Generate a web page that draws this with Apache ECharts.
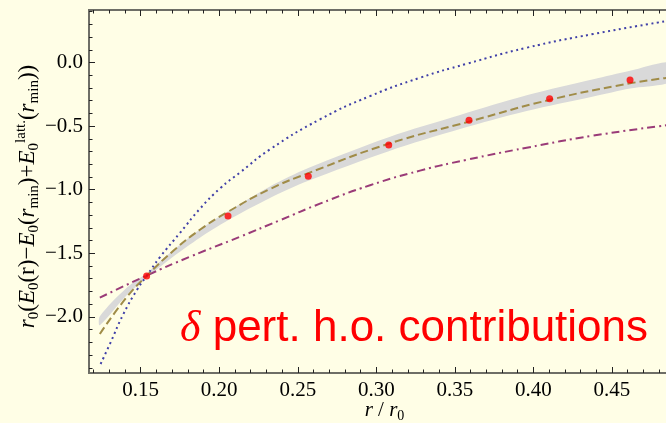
<!DOCTYPE html>
<html>
<head>
<meta charset="utf-8">
<script src="https://cdn.jsdelivr.net/npm/echarts@6/dist/echarts.min.js"></script>
<style>
  html, body { margin: 0; padding: 0; background: #fffee6; }
  #chart { width: 666px; height: 423px; }
</style>
</head>
<body>
<div id="chart"></div>
<script>
// lattice points (red dots)
var dotR = [0.1538, 0.2056, 0.2567, 0.3079, 0.3590, 0.4103, 0.4615];
var dotE = [-1.678, -1.207, -0.895, -0.649, -0.454, -0.285, -0.138];

// dotted blue curve
var blueR = [0.1245, 0.1305, 0.1389, 0.1475, 0.1538, 0.1623, 0.1750, 0.1877, 0.2005, 0.2132, 0.2323, 0.2641, 0.2960, 0.3278, 0.3575, 0.3957, 0.4381, 0.4870];
var blueE = [-2.37, -2.21, -1.98, -1.79, -1.678, -1.53, -1.34, -1.15, -0.99, -0.865, -0.683, -0.447, -0.264, -0.12, -0.01, 0.116, 0.224, 0.33];

// dashed olive curve
var oliveR = [0.1240, 0.1411, 0.1538, 0.1708, 0.1877, 0.2047, 0.2323, 0.2567, 0.3076, 0.3590, 0.4100, 0.4615, 0.4870];
var oliveE = [-2.134, -1.845, -1.678, -1.48, -1.315, -1.18, -0.995, -0.87, -0.64, -0.465, -0.295, -0.164, -0.118];

// dash-dotted purple curve
var purpleR = [0.1240, 0.1538, 0.1814, 0.2132, 0.2387, 0.2641, 0.2960, 0.3278, 0.3575, 0.3957, 0.4381, 0.4870];
var purpleE = [-1.849, -1.675, -1.527, -1.37, -1.24, -1.11, -0.965, -0.85, -0.765, -0.67, -0.575, -0.49];

// grey error band
var bandR = [0.1240, 0.1411, 0.1538, 0.1708, 0.1877, 0.2056, 0.2323, 0.2567, 0.3079, 0.3533, 0.3957, 0.4381, 0.4615, 0.4890];
var bandUpper = [-1.995, -1.77, -1.657, -1.475, -1.313, -1.17, -0.975, -0.83, -0.587, -0.413, -0.258, -0.132, -0.065, 0.0];
var bandLower = [-2.065, -1.83, -1.693, -1.525, -1.377, -1.24, -1.065, -0.93, -0.697, -0.523, -0.382, -0.268, -0.205, -0.145];

// ticks
var xMajor = [0.15, 0.20, 0.25, 0.30, 0.35, 0.40, 0.45];
var yMajor = [-2.0, -1.5, -1.0, -0.5, 0.0];
var xMinor = [];
for (var i = 12; i <= 49; i++) { if (i % 5 !== 0) xMinor.push(i / 100); }
var yMinor = [];
for (var j = -24; j <= 4; j++) { if (j % 5 !== 0) yMinor.push(j / 10); }

var X_MIN = 0.1171, X_MAX = 0.4933;
var Y_MIN = -2.441, Y_MAX = 0.4127;

function pairs(xs, ys) {
  return xs.map(function (x, k) { return [x, ys[k]]; });
}

var serif = 'Liberation Serif';
var axisCol = '#6e6e66';
var tickCol = '#222';

function xAx(grid, pos, ticks, len, labels) {
  return {
    type: 'value', gridIndex: grid, position: pos, min: X_MIN, max: X_MAX,
    axisLine: { show: true, onZero: false, lineStyle: { color: axisCol, width: 2 } },
    axisTick: { show: true, inside: true, length: len, customValues: ticks, lineStyle: { color: tickCol, width: 1 } },
    axisLabel: labels ? {
      customValues: ticks, margin: 7, color: '#000', fontFamily: serif, fontSize: 21,
      formatter: function (v) { return v.toFixed(2); }
    } : { show: false },
    splitLine: { show: false }
  };
}

function yAx(grid, ticks, len, labels) {
  return {
    type: 'value', gridIndex: grid, position: 'left', min: Y_MIN, max: Y_MAX,
    axisLine: { show: true, onZero: false, lineStyle: { color: axisCol, width: 2 } },
    axisTick: { show: true, inside: true, length: len, customValues: ticks, lineStyle: { color: tickCol, width: 1 } },
    axisLabel: labels ? {
      customValues: ticks, margin: 6, color: '#000', fontFamily: serif, fontSize: 21,
      formatter: function (v) { return v.toFixed(1).replace('-', '\u2212'); }
    } : { show: false },
    splitLine: { show: false }
  };
}

var xBottom = xAx(0, 'bottom', xMajor, 6, true);
xBottom.name = '{i|r} / {i|r}{s|0}';
xBottom.nameLocation = 'middle';
xBottom.nameGap = 24;
xBottom.nameMoveOverlap = false;
xBottom.nameTextStyle = {
  fontFamily: serif, fontSize: 21, color: '#000', lineHeight: 26,
  rich: {
    i: { fontFamily: serif, fontSize: 21, fontStyle: 'italic', lineHeight: 26 },
    s: { fontFamily: serif, fontSize: 14, lineHeight: 16, verticalAlign: 'bottom' }
  }
};

var yLeft = yAx(0, yMajor, 6, true);
yLeft.name = '{i|r}{s|0}({i|E}{s|0}(r)\u2212{i|E}{s|0}({i|r}{s|min})+{i|E}{s|0}{p|latt.}({i|r}{s|min}))';
yLeft.nameLocation = 'middle';
yLeft.nameGap = 47;
yLeft.nameMoveOverlap = false;
yLeft.nameTextStyle = {
  fontFamily: serif, fontSize: 23, color: '#000', lineHeight: 28,
  padding: [0, 10, 0, 0],
  rich: {
    i: { fontFamily: serif, fontSize: 23, fontStyle: 'italic', lineHeight: 28 },
    s: { fontFamily: serif, fontSize: 15, lineHeight: 17, verticalAlign: 'bottom' },
    p: { fontFamily: serif, fontSize: 15, lineHeight: 17, verticalAlign: 'top' }
  }
};

var gridBox = { left: 89, right: -14, top: 10, bottom: 50, outerBoundsMode: 'none' };

var chart = echarts.init(document.getElementById('chart'));
chart.setOption({
  backgroundColor: '#fffee6',
  animation: false,
  grid: [gridBox, gridBox],
  xAxis: [
    xBottom,
    xAx(0, 'top', xMajor, 6, false),
    xAx(1, 'bottom', xMinor, 3.5, false),
    xAx(1, 'top', xMinor, 3.5, false)
  ],
  yAxis: [
    yLeft,
    yAx(1, yMinor, 3.5, false)
  ],
  graphic: [{
    type: 'text',
    x: 180,
    y: 329,
    style: {
      text: '{d|\u03b4} pert. h.o. contributions',
      fill: '#ff0000',
      fontFamily: 'Liberation Sans',
      fontSize: 44,
      verticalAlign: 'middle',
      rich: {
        d: { fontFamily: serif, fontStyle: 'italic', fontSize: 44, fill: '#ff0000' }
      }
    },
    z: 100
  }],
  series: [
    {
      // grey band: upper edge left to right, lower edge back
      type: 'custom', xAxisIndex: 0, yAxisIndex: 0, z: 1,
      data: [0],
      renderItem: function (params, api) {
        var pts = [];
        for (var k = 0; k < bandR.length; k++) pts.push(api.coord([bandR[k], bandUpper[k]]));
        for (var m = bandR.length - 1; m >= 0; m--) pts.push(api.coord([bandR[m], bandLower[m]]));
        return {
          type: 'polygon',
          shape: { points: pts, smooth: 0.3 },
          style: { fill: '#d9d9d9' }
        };
      }
    },
    {
      type: 'line', xAxisIndex: 0, yAxisIndex: 0, data: pairs(purpleR, purpleE),
      smooth: true, showSymbol: false,
      lineStyle: { color: '#9a3b78', width: 2, type: [8, 4, 2, 4] }, z: 3
    },
    {
      type: 'line', xAxisIndex: 0, yAxisIndex: 0, data: pairs(oliveR, oliveE),
      smooth: true, showSymbol: false,
      lineStyle: { color: '#a08c48', width: 2, type: [8, 4] }, z: 3
    },
    {
      type: 'line', xAxisIndex: 0, yAxisIndex: 0, data: pairs(blueR, blueE),
      smooth: true, showSymbol: false,
      lineStyle: { color: '#4040a8', width: 2, type: [2, 3.5] }, z: 3
    },
    {
      type: 'scatter', xAxisIndex: 0, yAxisIndex: 0, data: pairs(dotR, dotE),
      symbol: 'circle', symbolSize: 7, itemStyle: { color: '#ff0000' }, z: 5
    }
  ]
});
</script>
</body>
</html>
